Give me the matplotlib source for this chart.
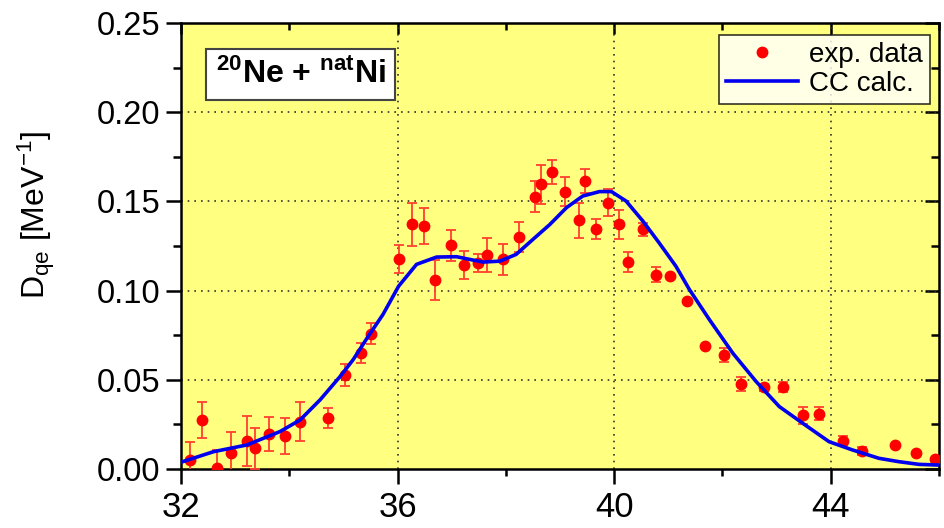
import numpy as np
import matplotlib
matplotlib.use("Agg")
import matplotlib.pyplot as plt
from matplotlib.lines import Line2D

plt.rcParams['font.family'] = ['Liberation Sans', 'DejaVu Sans']
plt.rcParams['mathtext.fontset'] = 'custom'
plt.rcParams['mathtext.rm'] = 'Liberation Sans'
plt.rcParams['mathtext.it'] = 'Liberation Sans:italic'
plt.rcParams['mathtext.bf'] = 'Liberation Sans:bold'

# experimental data
exp_x = [32.16, 32.39, 32.66, 32.92, 33.22, 33.375, 33.63, 33.93, 34.2, 34.71,
         35.03, 35.32, 35.51, 36.02, 36.26, 36.49, 36.69, 36.98, 37.23, 37.49,
         37.66, 37.95, 38.24, 38.53, 38.64, 38.85, 39.10, 39.35, 39.47, 39.66,
         39.88, 40.09, 40.26, 40.53, 40.77, 41.04, 41.35, 41.68, 42.03, 42.35,
         42.76, 43.11, 43.48, 43.78, 44.22, 44.57, 45.18, 45.58, 45.93]
exp_y = [0.005, 0.0275, 0.0005, 0.0088, 0.0157, 0.0116, 0.0197, 0.0185, 0.0266, 0.0288,
         0.0528, 0.065, 0.0759, 0.1175, 0.1371, 0.1362, 0.1062, 0.1253, 0.1142, 0.1156,
         0.120, 0.1175, 0.130, 0.1525, 0.1596, 0.1665, 0.1555, 0.1394, 0.1615, 0.1343,
         0.1493, 0.1371, 0.1162, 0.1343, 0.109, 0.108, 0.094, 0.0687, 0.0637, 0.0478,
         0.0459, 0.0459, 0.030, 0.031, 0.0159, 0.0101, 0.0137, 0.0088, 0.0056]
exp_err = [0.010, 0.010, 0.010, 0.012, 0.014, 0.0116, 0.0097, 0.0099, 0.011, 0.0056,
           0.006, 0.0056, 0.006, 0.0079, 0.012, 0.0099, 0.0112, 0.0086, 0.0079, 0.005,
           0.0097, 0.0088, 0.0082, 0.0087, 0.011, 0.0067, 0.0079, 0.0099, 0.0066, 0.0056,
           0.0075, 0.008, 0.0056, 0.0037, 0.004, 0.0, 0.0, 0.0, 0.004, 0.004,
           0.002, 0.0026, 0.0047, 0.0038, 0.0026, 0.0024, 0.0, 0.0, 0.0]

# CC calculation
cc_x = [32.0, 32.6, 33.22, 33.83, 34.2, 34.57, 34.94, 35.18, 35.45, 35.73, 36.02,
        36.35, 36.72, 37.09, 37.33, 37.58, 37.89, 38.19, 38.5, 38.81, 39.12, 39.42,
        39.73, 39.95, 40.22, 40.53, 40.83, 41.14, 41.39, 41.76, 42.19, 42.62, 43.05,
        43.48, 43.97, 44.4, 44.89, 45.26, 45.63, 46.0]
cc_y = [0.0038, 0.0097, 0.0135, 0.021, 0.0275, 0.0388, 0.0519, 0.0613, 0.074, 0.0866, 0.1025,
        0.1147, 0.1188, 0.119, 0.1175, 0.116, 0.1165, 0.1203, 0.1287, 0.137, 0.1465, 0.153,
        0.1555, 0.1555, 0.1502, 0.139, 0.1268, 0.1137, 0.1006, 0.0837, 0.065, 0.0491, 0.035,
        0.0257, 0.0153, 0.0107, 0.006, 0.0041, 0.0026, 0.0022]

x_ticks = [32, 36, 40, 44]
y_ticks = [0.00, 0.05, 0.10, 0.15, 0.20, 0.25]

fig = plt.figure(figsize=(9.44, 5.28), dpi=100)
ax = fig.add_axes([181/944, 1 - 469/528, (939 - 181)/944, (469 - 23)/528])
ax.set_facecolor('#FFFF80')

ex = np.array(exp_x); ey = np.array(exp_y); ee = np.array(exp_err)
m = ee > 0
ax.errorbar(ex[m], ey[m], yerr=ee[m], fmt='none', ecolor='#FF4030', elinewidth=1.3,
            capsize=3.5, capthick=1.3, zorder=3, clip_on=True)
ax.plot(ex, ey, 'o', color='#FF0000', markersize=7.5, zorder=4, clip_on=True)
ax.plot(cc_x, cc_y, '-', color='#0000EE', linewidth=2.6, zorder=5)

ax.set_xlim(32, 46)
ax.set_ylim(0, 0.25)
ax.set_xticks(x_ticks)
ax.set_xticks([34, 38, 42, 46], minor=True)
ax.set_yticks(y_ticks)
ax.set_yticks([0.025, 0.075, 0.125, 0.175, 0.225], minor=True)
ax.set_yticklabels(['%.2f' % v for v in y_ticks])
ax.tick_params(which='major', direction='out', length=11, width=1.8, pad=4)
ax.tick_params(axis='y', which='major', labelsize=23.5)
ax.tick_params(axis='x', which='major', labelsize=25, pad=5)
ax.tick_params(which='minor', direction='out', length=6, width=1.8)
ax.tick_params(axis='x', which='minor', length=5)

for s in ax.spines.values():
    s.set_linewidth(1.8)

for gx in [36, 40, 44]:
    ax.axvline(gx, color='#333333', linestyle=(0, (1, 3)), linewidth=1.2, zorder=1)
for gy in [0.05, 0.10, 0.15, 0.20]:
    ax.axhline(gy, color='#333333', linestyle=(0, (1, 3)), linewidth=1.2, zorder=1)

secx = ax.secondary_xaxis('top')
secx.set_xticks(x_ticks)
secx.set_xticks([34, 38, 42, 46], minor=True)
secx.tick_params(which='major', direction='in', length=8, width=1.8, labeltop=False)
secx.tick_params(which='minor', direction='in', length=5, width=1.8)
secy = ax.secondary_yaxis('right')
secy.set_yticks(y_ticks)
secy.set_yticks([0.025, 0.075, 0.125, 0.175, 0.225], minor=True)
secy.tick_params(which='major', direction='in', length=10, width=1.8, labelright=False)
secy.tick_params(which='minor', direction='in', length=6, width=1.8)

fig.text(36/944, 1 - 215/528, r'D$_{\rm qe}$ [MeV$^{-1}$]', rotation=90,
         ha='center', va='center', fontsize=23)

ax.text(0.158, 0.885, r'$^{\mathbf{20}}$Ne + $^{\mathbf{nat}}$Ni', transform=ax.transAxes,
        ha='center', va='center', fontsize=23, fontweight='bold',
        bbox=dict(boxstyle='square,pad=0.3', facecolor='white', edgecolor='#444444',
                  linewidth=1.5), zorder=6)

handles = [Line2D([], [], marker='o', linestyle='none', color='#FF0000', markersize=7.5),
           Line2D([], [], color='#0000EE', linewidth=2.6)]
leg = ax.legend(handles, ['exp. data', 'CC calc.'], loc='upper right',
                bbox_to_anchor=(0.988, 0.973), borderaxespad=0, fontsize=20,
                frameon=True, fancybox=False, edgecolor='black', handlelength=2.6,
                labelspacing=0.1, borderpad=0.25, handletextpad=0.4)
leg.get_frame().set_linewidth(1.2)
leg.set_zorder(7)

fig.savefig('out.png', dpi=100, facecolor='white')
